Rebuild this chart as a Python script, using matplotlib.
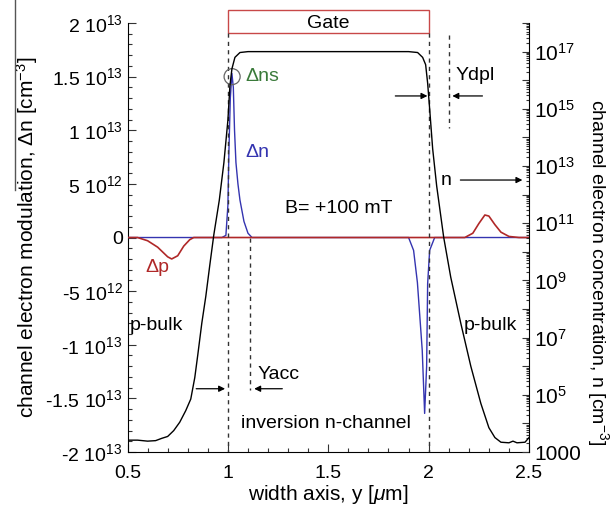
import numpy as np
import matplotlib
matplotlib.use("Agg")
import matplotlib.pyplot as plt
from matplotlib.patches import Rectangle, Ellipse
from matplotlib.lines import Line2D
from matplotlib.ticker import MultipleLocator, FuncFormatter, LogLocator, NullFormatter

plt.rcParams['font.family'] = ['Liberation Sans', 'DejaVu Sans']
plt.rcParams['mathtext.fontset'] = 'custom'
plt.rcParams['mathtext.rm'] = 'Liberation Sans'
plt.rcParams['mathtext.it'] = 'Liberation Sans:italic'
plt.rcParams['mathtext.bf'] = 'Liberation Sans:bold'
plt.rcParams['axes.unicode_minus'] = False

# ---------------- data ----------------
# channel electron concentration n (right, log axis)
n_y = [0.50, 0.55, 0.60, 0.64, 0.67, 0.70, 0.73, 0.76, 0.79, 0.815, 0.835, 0.85,
       0.87, 0.89, 0.91, 0.93, 0.957, 0.98, 1.00, 1.01, 1.02, 1.035, 1.06, 1.10,
       1.90, 1.945, 1.97, 1.985, 1.995, 2.005, 2.02, 2.04, 2.075, 2.11, 2.16,
       2.21, 2.26, 2.30, 2.33, 2.36, 2.40, 2.42, 2.44, 2.48, 2.50]
n_val = [2.6e3, 2.6e3, 2.4e3, 2.5e3, 3.0e3, 3.5e3, 5.6e3, 1.1e4, 2.8e4, 7.1e4,
         4.0e5, 2.5e6, 3.2e7, 2.8e8, 3.5e9, 4.0e10, 6.3e11, 1.3e13, 4.0e14,
         6.3e15, 2.5e16, 6.3e16, 9.3e16, 1.0e17,
         1.0e17, 9.3e16, 6.3e16, 3.5e16, 7.9e15, 1.0e15, 4.0e13, 2.0e12, 3.2e10,
         1.3e9, 3.2e7, 1.0e6, 5.0e4, 7.1e3, 3.2e3, 2.2e3, 2.1e3, 2.4e3, 2.1e3,
         2.2e3, 3.2e3]

# channel electron modulation dn (left axis)
dn_y = [0.50, 0.97, 0.99, 1.00, 1.005, 1.012, 1.02, 1.027, 1.033, 1.04, 1.05,
        1.06, 1.08, 1.10, 1.12, 1.90, 1.925, 1.944, 1.968, 1.98, 1.99, 1.995,
        2.005, 2.03, 2.50]
dn_val = [0, 0, 0.2e12, 3.0e12, 8.0e12, 13.0e12, 15.3e12, 14.0e12, 10.0e12,
          7.0e12, 5.0e12, 3.5e12, 1.5e12, 0.4e12, 0, 0, -1.2e12, -4.2e12,
          -10.5e12, -16.4e12, -12.0e12, -4.3e12, -1.2e12, 0, 0]

# hole modulation dp (left axis)
dp_y = [0.50, 0.55, 0.60, 0.65, 0.70, 0.72, 0.75, 0.78, 0.81, 0.83, 2.18, 2.22,
        2.25, 2.28, 2.30, 2.33, 2.36, 2.40, 2.45, 2.50]
dp_val = [0, 0, -0.3e12, -0.9e12, -1.8e12, -2.0e12, -1.7e12, -0.8e12, -0.2e12,
          0, 0, 0.4e12, 1.3e12, 2.1e12, 2.0e12, 1.2e12, 0.5e12, 0.1e12, 0, 0]

left_ticks = [-2e13, -1.5e13, -1e13, -5e12, 0, 5e12, 1e13, 1.5e13, 2e13]
left_labels = ["-2 10$^{13}$", "-1.5 10$^{13}$", "-1 10$^{13}$", "-5 10$^{12}$", "0",
               "5 10$^{12}$", "1 10$^{13}$", "1.5 10$^{13}$", "2 10$^{13}$"]
x_ticks = [0.5, 1.0, 1.5, 2.0, 2.5]
x_labels = ["0.5", "1", "1.5", "2", "2.5"]

BLUE = "#3434b0"
RED = "#b02828"
GREEN = "#3a7a3a"

# ---------------- figure ----------------
fig = plt.figure(figsize=(6.14, 5.15), dpi=100)
ax = fig.add_axes([0.2077, 0.1223, 0.6539, 0.8330])
ax2 = ax.twinx()

ax.plot(dn_y, dn_val, color=BLUE, lw=1.0, zorder=3)
ax.plot(dp_y, dp_val, color=RED, lw=1.2, zorder=4)
ax2.plot(n_y, n_val, color='black', lw=1.0)

ax.set_xlim(0.5, 2.5)
ax.set_ylim(-2e13, 2e13)
ax2.set_yscale('log')
ax2.set_ylim(1e3, 1e18)

ax.set_yticks(left_ticks)
ax.set_yticklabels(left_labels)
ax.yaxis.set_minor_locator(MultipleLocator(1e12))
ax.set_xticks(x_ticks)
ax.set_xticklabels(x_labels)
ax.xaxis.set_minor_locator(MultipleLocator(0.1))

ax2.yaxis.set_major_locator(LogLocator(base=10, numticks=30))
ax2.yaxis.set_minor_locator(LogLocator(base=10, subs=np.arange(2, 10), numticks=200))
ax2.yaxis.set_minor_formatter(NullFormatter())

def rfmt(v, pos):
    e = int(round(np.log10(v)))
    if e == 3:
        return "1000"
    if e % 2 == 1:
        return "10$^{%d}$" % e
    return ""
ax2.yaxis.set_major_formatter(FuncFormatter(rfmt))

for a in (ax, ax2):
    a.spines['top'].set_visible(False)
    a.tick_params(which='both', direction='in', labelsize=14, width=0.8, color='#333333')
    a.tick_params(which='major', length=6)
    a.tick_params(which='minor', length=3)
ax.tick_params(axis='x', which='both', top=False, pad=9)
ax.tick_params(axis='y', which='both', right=False)
ax2.tick_params(axis='y', which='major', length=5, labelsize=15)
ax2.tick_params(axis='y', which='minor', length=2.5)
ax.spines['right'].set_visible(False)
for s in ('left', 'bottom'):
    ax.spines[s].set_linewidth(0.8)
ax2.spines['right'].set_linewidth(0.8)
ax2.spines['left'].set_visible(False)
ax2.spines['bottom'].set_visible(False)

ax.set_xlabel("width axis, y [$\\mu$m]", fontsize=15, labelpad=1)
ax.set_ylabel("channel electron modulation, \u0394n [cm$^{-3}$]", fontsize=15, labelpad=4)
fig.text(598/614, 1 - 272/515, "channel electron concentration, n [cm$^{-3}$]",
         fontsize=14, rotation=-90, ha='center', va='center')

# overline at the left edge
fig.add_artist(Line2D([15/614, 15/614], [1 - 190/515, 1.0], color='#555555', lw=1.0))

# ---------------- annotations ----------------
dash = dict(color='#333333', lw=1.0, ls=(0, (3, 3)))
ax.plot([1.0, 1.0], [1.907e13, -2e13], **dash, zorder=5)
ax.plot([2.0, 2.0], [1.907e13, -2e13], **dash, zorder=5)
ax.plot([1.111, 1.111], [0, -1.42e13], **dash)
ax.plot([2.103, 2.103], [1.89e13, 1.02e13], **dash)

ax.add_patch(Rectangle((1.0, 1.907e13), 1.0, 0.213e13,
                       fill=False, edgecolor='#c84848', lw=1.0, clip_on=False))
ax.text(1.5, 2.0e13, "Gate", ha='center', va='center', fontsize=14, clip_on=False)

ax.add_patch(Ellipse((1.021, 1.5e13), 0.08, 1.49e12, fill=False,
                     edgecolor='#666666', lw=0.9, zorder=6))
ax.text(1.086, 1.5e13, "\u0394ns", color=GREEN, fontsize=14, ha='left', va='center')
ax.text(1.086, 7.9e12, "\u0394n", color=BLUE, fontsize=14, ha='left', va='center')
ax.text(0.587, -2.84e12, "\u0394p", color=RED, fontsize=14, ha='left', va='center')
ax.text(1.285, 2.75e12, "B= +100 mT", fontsize=14, ha='left', va='center')
ax.text(0.513, -8.16e12, "p-bulk", fontsize=14, ha='left', va='center')
ax.text(2.173, -8.16e12, "p-bulk", fontsize=14, ha='left', va='center')
ax.text(2.134, 1.515e13, "Ydpl", fontsize=14, ha='left', va='center')
ax.text(2.06, 5.36e12, "n", fontsize=14, ha='left', va='center')
ax.text(1.146, -1.28e13, "Yacc", fontsize=14, ha='left', va='center')
ax.text(1.49, -1.73e13, "inversion n-channel", fontsize=14, ha='center', va='center')

arr = dict(arrowstyle='-|>', mutation_scale=9, lw=0.9, color='black', shrinkA=0, shrinkB=0)
ax.annotate("", xy=(1.994, 1.32e13), xytext=(1.834, 1.32e13), arrowprops=arr)
ax.annotate("", xy=(2.118, 1.32e13), xytext=(2.268, 1.32e13), arrowprops=arr)
ax.annotate("", xy=(2.467, 5.36e12), xytext=(2.158, 5.36e12), arrowprops=arr)
ax.annotate("", xy=(0.986, -1.41e13), xytext=(0.842, -1.41e13), arrowprops=arr)
ax.annotate("", xy=(1.131, -1.41e13), xytext=(1.271, -1.41e13), arrowprops=arr)

fig.savefig("out.png", dpi=100)
